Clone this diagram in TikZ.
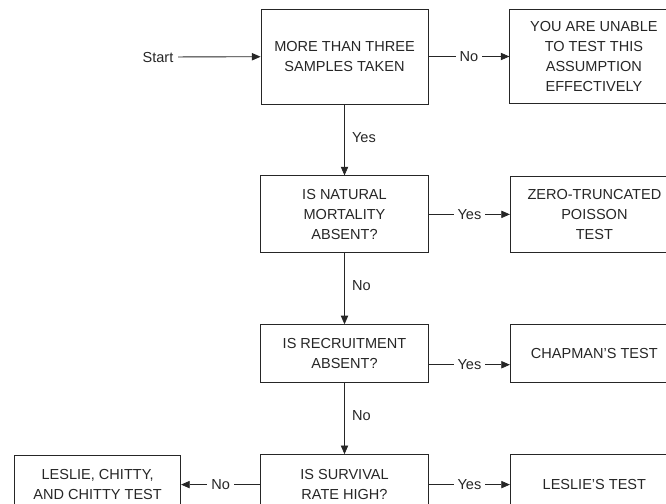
\documentclass[tikz,border=0pt]{standalone}
\usepackage{fontspec}
\setmainfont{Liberation Sans}
\usetikzlibrary{positioning,arrows.meta}
\tikzset{testbox/.style = {draw, rectangle, align=center, minimum width=126pt, inner sep=2pt}}
\tikzset{flow/.style = {-{Triangle[length=6.5pt,width=5.5pt]}}}
\tikzset{answer/.style = {fill=white, inner sep=3pt}}

\begin{document}
\begin{tikzpicture}[x=0.75pt, y=-0.75pt, line width=0.65pt, color=black!85,
  font=\fontsize{10.9}{15}\selectfont, node distance=53.25pt and 60.75pt]
  \useasboundingbox (0,0) rectangle (666,503);
  \clip (0,0) rectangle (666,503);
  \node[testbox, minimum width=125.25pt, minimum height=71.25pt] (samples) at (344.5,56.5) {MORE THAN THREE\\SAMPLES TAKEN};
  \node[testbox, minimum height=70.5pt, right=of samples] (unable) {YOU ARE UNABLE\\TO TEST THIS\\ASSUMPTION\\EFFECTIVELY};
  \node[testbox, minimum height=57.75pt, below=of samples] (mortality) {IS NATURAL\\MORTALITY\\ABSENT?};
  \node[testbox, minimum height=57pt, right=of mortality] (poisson) {ZERO-TRUNCATED\\POISSON\\TEST};
  \node[testbox, minimum height=43.5pt, below=of mortality] (recruit) {IS RECRUITMENT\\ABSENT?};
  \node[testbox, minimum height=43.5pt, right=of recruit] (chapman) {CHAPMAN'S TEST};
  \node[testbox, minimum height=45pt, below=of recruit] (survival) {IS SURVIVAL\\RATE HIGH?};
  \node[testbox, minimum height=45pt, right=of survival] (leslie) {LESLIE'S TEST};
  \node[testbox, minimum width=124.5pt, minimum height=43.5pt, left=59.25pt of survival] (chitty) {LESLIE, CHITTY,\\AND CHITTY TEST};
  \node (start) at (158,57) {Start};
  % connectors
  \draw[flow] (start) -- (samples);
  \draw[flow] (samples) -- node[answer] {No} (unable);
  \draw[flow] (samples) -- node[pos=0.46, right=2pt] {Yes} (mortality);
  \draw[flow] (mortality) -- node[answer] {Yes} (poisson);
  \draw[flow] (mortality) -- node[pos=0.46, right=2pt] {No} (recruit);
  \draw[flow] ([yshift=-8.25pt]recruit.east) -- node[answer] {Yes} ([yshift=-8.25pt]chapman.west);
  \draw[flow] (recruit) -- node[pos=0.46, right=2pt] {No} (survival);
  \draw[flow] (survival) -- node[answer] {Yes} (leslie);
  \draw[flow] (survival.west) -- node[answer] {No} (survival.west -| chitty.east);
\end{tikzpicture}
\end{document}
